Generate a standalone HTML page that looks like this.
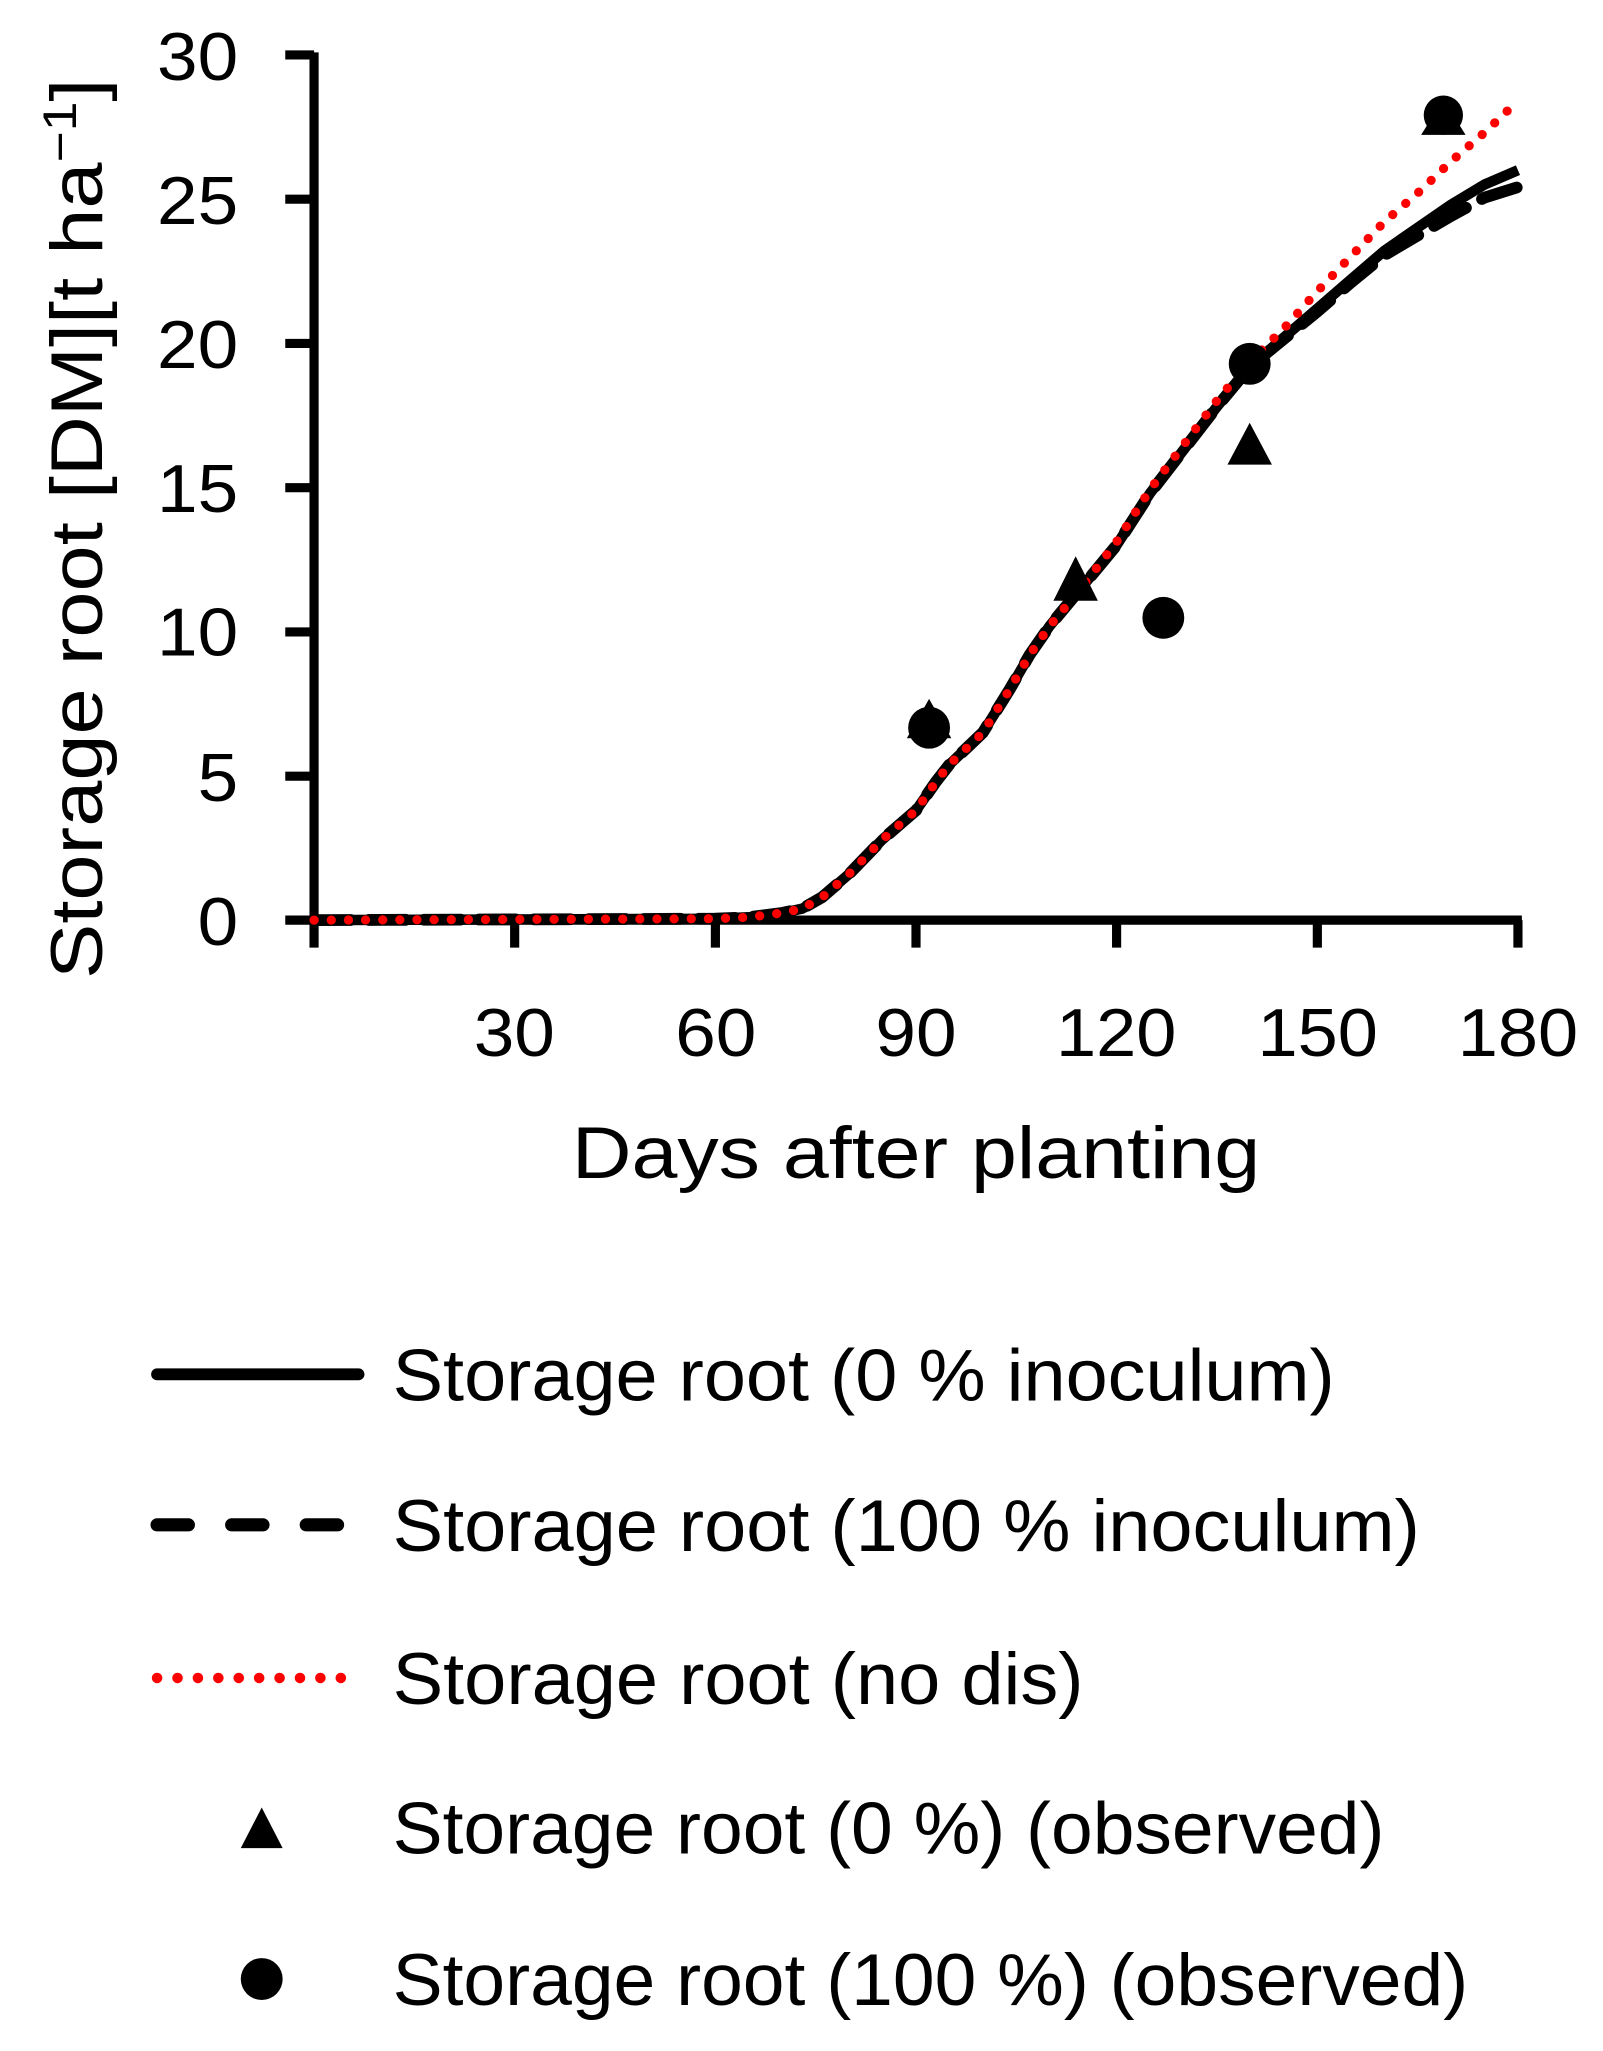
<!DOCTYPE html>
<html><head><meta charset="utf-8"><style>html,body{margin:0;padding:0;background:#fff}svg{display:block}</style></head>
<body>
<svg width="1603" height="2051" viewBox="0 0 1225 1567" preserveAspectRatio="none" xmlns="http://www.w3.org/2000/svg">
<rect width="1225" height="1567" fill="#fff"/>
<g font-family="Liberation Sans, sans-serif" fill="#000">
<line x1="240" y1="40" x2="240" y2="706" stroke="#000" stroke-width="7"/>
<line x1="237" y1="703" x2="1163" y2="703" stroke="#000" stroke-width="7"/>
<g stroke="#000" stroke-width="7">
<line x1="218" y1="42" x2="240" y2="42"/><line x1="218" y1="152.2" x2="240" y2="152.2"/><line x1="218" y1="262.4" x2="240" y2="262.4"/><line x1="218" y1="372.6" x2="240" y2="372.6"/><line x1="218" y1="482.8" x2="240" y2="482.8"/><line x1="218" y1="593" x2="240" y2="593"/><line x1="218" y1="703" x2="240" y2="703"/>
<line x1="240" y1="703" x2="240" y2="724"/><line x1="393.3" y1="703" x2="393.3" y2="724"/><line x1="546.7" y1="703" x2="546.7" y2="724"/><line x1="700" y1="703" x2="700" y2="724"/><line x1="853.3" y1="703" x2="853.3" y2="724"/><line x1="1006.7" y1="703" x2="1006.7" y2="724"/><line x1="1160" y1="703" x2="1160" y2="724"/>
</g>
<g font-size="52" text-anchor="end">
<text x="182" y="61" textLength="62" lengthAdjust="spacingAndGlyphs">30</text>
<text x="182" y="171" textLength="62" lengthAdjust="spacingAndGlyphs">25</text>
<text x="182" y="281" textLength="62" lengthAdjust="spacingAndGlyphs">20</text>
<text x="182" y="391" textLength="62" lengthAdjust="spacingAndGlyphs">15</text>
<text x="182" y="501" textLength="62" lengthAdjust="spacingAndGlyphs">10</text>
<text x="182" y="612" textLength="31" lengthAdjust="spacingAndGlyphs">5</text>
<text x="182" y="722" textLength="31" lengthAdjust="spacingAndGlyphs">0</text>
</g>
<g font-size="52" text-anchor="middle">
<text x="393" y="807" textLength="62" lengthAdjust="spacingAndGlyphs">30</text>
<text x="547" y="807" textLength="62" lengthAdjust="spacingAndGlyphs">60</text>
<text x="700" y="807" textLength="62" lengthAdjust="spacingAndGlyphs">90</text>
<text x="853" y="807" textLength="92" lengthAdjust="spacingAndGlyphs">120</text>
<text x="1007" y="807" textLength="92" lengthAdjust="spacingAndGlyphs">150</text>
<text x="1160" y="807" textLength="92" lengthAdjust="spacingAndGlyphs">180</text>
</g>
<text x="700" y="900" font-size="56" text-anchor="middle" textLength="526" lengthAdjust="spacingAndGlyphs">Days after planting</text>
<text transform="translate(78,748) rotate(-90)" font-size="56" textLength="688" lengthAdjust="spacingAndGlyphs">Storage root [DM][t ha<tspan font-size="36" dy="-20">−1</tspan><tspan dy="20">]</tspan></text>
</g>
<path d="M240,703 L546.7,701.9 L572.2,700.8 L597.8,697.5 L613.1,694.2 L628.4,685.4 L648.9,667.7 L674.4,641.3 L689.8,628 L700,619.2 L715.3,597.2 L725.6,584 L751.1,559.7 L771.6,526.7 L786.9,500.2 L802.2,478.2 L827.8,447.3 L853.3,416.5 L878.9,376.8 L904.4,343.8 L930,310.7 L955.6,279.8 L981.1,257.8 L1006.7,235.8 L1032.2,213.7 L1057.8,191.7 L1083.3,174 L1108.9,156.4 L1134.4,141 L1160,130" fill="none" stroke="#000" stroke-width="8" stroke-linejoin="round"/>
<path d="M240,703 L546.7,701.9 L572.2,700.8 L597.8,697.5 L613.1,694.2 L628.4,685.4 L648.9,667.7 L674.4,641.3 L689.8,628 L700,619.2 L715.3,597.2 L725.6,584 L751.1,559.7 L771.6,526.7 L786.9,500.2 L802.2,478.2 L827.8,447.3 L853.3,416.5 L878.9,376.8 L904.4,343.8 L930,310.7 L955.6,279.8 L981.1,259 L1006.7,238 L1032.2,216 L1057.8,195 L1083.3,180 L1108.9,165 L1134.4,151 L1160,143" fill="none" stroke="#000" stroke-width="9" stroke-dasharray="28,14" stroke-linecap="round" stroke-linejoin="round"/>
<path d="M240,703 L546.7,701.9 L572.2,700.8 L597.8,697.5 L613.1,694.2 L628.4,685.4 L648.9,667.7 L674.4,641.3 L689.8,628 L700,619.2 L715.3,597.2 L725.6,584 L751.1,559.7 L771.6,526.7 L786.9,500.2 L802.2,478.2 L827.8,447.3 L853.3,414 L878.9,374 L904.4,340 L930,306 L955.6,275.6 L981.1,251 L1006.7,222.5 L1032.2,196 L1057.8,169.6 L1083.3,147.6 L1108.9,123.3 L1134.4,101.3 L1160,77" fill="none" stroke="#f00" stroke-width="7" stroke-dasharray="0.1,13" stroke-linecap="round"/>
<g fill="#000">
<polygon points="710,534 693,564 727,564"/>
<polygon points="822,425 805,459 839,459"/>
<polygon points="955,323 938,355 972,355"/>
<polygon points="1103,76 1086,103 1120,103"/>
<circle cx="710" cy="556" r="16"/>
<circle cx="889" cy="472" r="16"/>
<circle cx="955" cy="278" r="16"/>
<circle cx="1103" cy="88" r="15"/>
</g>
<line x1="120" y1="1050" x2="274" y2="1050" stroke="#000" stroke-width="9" stroke-linecap="round"/>
<line x1="120" y1="1165" x2="274" y2="1165" stroke="#000" stroke-width="10" stroke-dasharray="24,33" stroke-linecap="round"/>
<line x1="120" y1="1282" x2="274" y2="1282" stroke="#f00" stroke-width="8" stroke-dasharray="0.1,15.5" stroke-linecap="round"/>
<polygon points="200,1381 184,1412 216,1412" fill="#000"/>
<circle cx="200" cy="1512" r="16" fill="#000"/>
<g font-family="Liberation Sans, sans-serif" font-size="56" fill="#000">
<text x="300" y="1070" textLength="720" lengthAdjust="spacingAndGlyphs">Storage root (0 % inoculum)</text>
<text x="300" y="1185" textLength="785" lengthAdjust="spacingAndGlyphs">Storage root (100 % inoculum)</text>
<text x="300" y="1302" textLength="528" lengthAdjust="spacingAndGlyphs">Storage root (no dis)</text>
<text x="300" y="1416" textLength="758" lengthAdjust="spacingAndGlyphs">Storage root (0 %) (observed)</text>
<text x="300" y="1532" textLength="822" lengthAdjust="spacingAndGlyphs">Storage root (100 %) (observed)</text>
</g>
</svg>
</body></html>
